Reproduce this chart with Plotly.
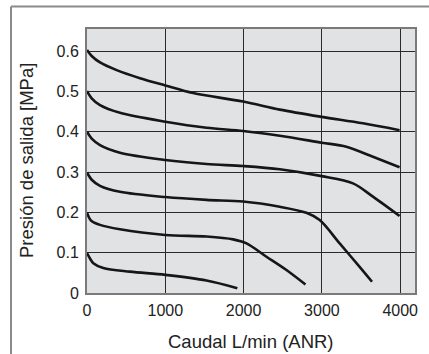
import plotly.graph_objects as go

# Caudal (L/min ANR) vs presión de salida (MPa), one curve per set pressure
x_06 = [0, 60, 166, 379, 677, 1000, 1356, 1994, 2462, 2997, 3524, 3992]
y_06 = [0.603, 0.588, 0.572, 0.553, 0.533, 0.515, 0.496, 0.475, 0.455, 0.437, 0.421, 0.404]

x_05 = [0, 60, 166, 421, 1000, 1526, 1994, 2462, 2997, 3312, 3652, 3992]
y_05 = [0.501, 0.483, 0.466, 0.447, 0.425, 0.410, 0.402, 0.390, 0.373, 0.363, 0.338, 0.312]

x_04 = [0, 60, 166, 421, 1000, 1526, 1994, 2462, 2997, 3397, 3652, 3992]
y_04 = [0.400, 0.383, 0.367, 0.348, 0.330, 0.320, 0.315, 0.307, 0.290, 0.272, 0.239, 0.191]

x_03 = [0, 60, 166, 421, 1000, 1526, 1994, 2462, 2802, 2972, 3227, 3482, 3640]
y_03 = [0.299, 0.281, 0.266, 0.251, 0.238, 0.231, 0.227, 0.214, 0.199, 0.181, 0.123, 0.065, 0.028]

x_02 = [0, 50, 166, 421, 1000, 1526, 1866, 2037, 2292, 2547, 2790]
y_02 = [0.199, 0.180, 0.169, 0.158, 0.144, 0.140, 0.133, 0.123, 0.090, 0.057, 0.021]

x_01 = [0, 40, 81, 208, 548, 1000, 1526, 1920]
y_01 = [0.099, 0.085, 0.074, 0.062, 0.053, 0.045, 0.031, 0.012]

x_ticks = [0, 1000, 2000, 3000, 4000]
y_ticks = [0, 0.1, 0.2, 0.3, 0.4, 0.5, 0.6]
y_tick_labels = ["0", "0.1", "0.2", "0.3", "0.4", "0.5", "0.6"]
x_title = "Caudal L/min (ANR)"
y_title = "Presión de salida [MPa]"

series = [(x_06, y_06), (x_05, y_05), (x_04, y_04), (x_03, y_03), (x_02, y_02), (x_01, y_01)]

fig = go.Figure()
for xs, ys in series:
    fig.add_trace(go.Scatter(
        x=xs, y=ys, mode="lines",
        line=dict(color="#161616", width=2.6, shape="spline", smoothing=0.9),
        showlegend=False, hoverinfo="skip",
    ))

font_family = "Liberation Sans, Arial, sans-serif"

L, R, T, B = 87, 415, 29, 293
W, H = 429, 354
pw, ph = R - L, B - T

fig.update_layout(
    width=W, height=H,
    margin=dict(l=L, r=W - R, t=T, b=H - B, autoexpand=False),
    paper_bgcolor="white",
    plot_bgcolor="#e1e2e4",
    font=dict(family=font_family, color="#222222", size=16),
    xaxis=dict(
        range=[0, 4189], tickvals=x_ticks, ticktext=[str(v) for v in x_ticks],
        showgrid=True, gridcolor="#2a2a2a", gridwidth=1.2,
        showline=True, linecolor="#7a7a7a", linewidth=2, mirror=True,
        zeroline=False, ticks="", ticklabelstandoff=2, automargin=False,
        tickfont=dict(size=16),
        fixedrange=True,
    ),
    yaxis=dict(
        range=[0, 0.655], tickvals=y_ticks, ticktext=y_tick_labels,
        showgrid=True, gridcolor="#2a2a2a", gridwidth=1.2,
        showline=True, linecolor="#7a7a7a", linewidth=2, mirror=True,
        zeroline=False, ticks="", ticklabelstandoff=3, automargin=False,
        tickfont=dict(size=16),
        fixedrange=True,
    ),
)

fig.add_annotation(text=x_title, xref="paper", yref="paper",
                   x=0.5, y=(B - 341) / ph, xanchor="center", yanchor="middle",
                   showarrow=False, font=dict(size=18.5, family=font_family, color="#222222"))
fig.add_annotation(text=y_title, xref="paper", yref="paper",
                   x=(26 - L) / pw, y=0.5, xanchor="center", yanchor="middle",
                   textangle=-90, showarrow=False,
                   font=dict(size=18.5, family=font_family, color="#222222"))

# outer frame (left and top edges of the figure box)
fl, ft = (11 - L) / pw, (B - 6.5) / ph
fb, fr = (B - 360) / ph, (435 - L) / pw
fig.add_shape(type="line", xref="paper", yref="paper", x0=fl, y0=fb, x1=fl, y1=ft,
              line=dict(color="#8a8a8a", width=2))
fig.add_shape(type="line", xref="paper", yref="paper", x0=fl, y0=ft, x1=fr, y1=ft,
              line=dict(color="#8a8a8a", width=2))

fig.write_html("out.html", config={"displayModeBar": False},
               post_script="document.body.style.margin='0px';")
